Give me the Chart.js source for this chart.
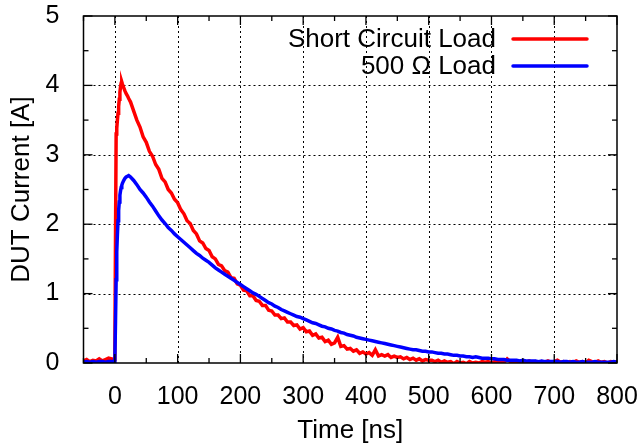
<!DOCTYPE html>
<html>
<head>
<meta charset="utf-8">
<script src="https://cdn.jsdelivr.net/npm/chart.js@4"></script>
<style>
html,body{margin:0;padding:0;background:#fff;}
#wrap{width:642px;height:446px;}
</style>
</head>
<body>
<div id="wrap"><canvas id="c" width="642" height="446"></canvas></div>
<script>
// ---- data ----
const seriesNames = ['Short Circuit Load', '500 \u03A9 Load'];
const seriesColors = ['#ff0000', '#0000ff'];

const timeNs = [
  -50,-45,-40,-35,-30,-25,-20,-15,-10,-5,-1,
  0,1,2,3,4,5,6,7,8,9,10,11,12,14,16,18,20,22,25,
  30,35,40,45,50,55,60,65,70,75,
  80,85,90,95,100,105,110,115,120,125,
  130,135,140,145,150,155,160,165,170,175,
  180,185,190,195,200,205,210,215,220,225,
  230,235,240,245,250,255,260,265,270,275,
  280,285,290,295,300,305,310,315,320,325,
  330,335,340,345,350,355,360,365,370,375,
  380,385,390,395,400,405,410,415,420,425,
  430,435,440,445,450,455,460,465,470,475,
  480,485,490,495,500,505,510,515,520,525,
  530,535,540,545,550,555,560,565,570,575,
  580,585,590,595,600,605,610,615,620,625,
  630,635,640,645,650,655,660,665,670,675,
  680,685,690,695,700,705,710,715,720,725,
  730,735,740,745,750,755,760,765,770,775,
  780,785,790,795,800
];

const shortCircuitA = [
  0.03,0.05,0.02,0.04,0.03,0.06,0.03,0.05,0.07,0.06,0.05,
  0.20,1.80,3.30,3.38,3.50,3.60,3.70,3.80,3.90,3.98,4.03,4.05,4.02,3.97,3.92,3.88,3.85,3.81,3.76,
  3.63,3.50,3.40,3.26,3.18,3.05,2.98,2.86,2.79,2.66,
  2.61,2.50,2.45,2.36,2.31,2.21,2.15,2.05,2.01,1.91,
  1.86,1.76,1.73,1.65,1.62,1.53,1.50,1.42,1.40,1.33,
  1.31,1.23,1.22,1.14,1.12,1.05,1.04,0.97,0.97,0.90,
  0.89,0.83,0.83,0.76,0.75,0.69,0.69,0.64,0.65,0.59,
  0.59,0.54,0.55,0.49,0.51,0.45,0.46,0.40,0.42,0.36,
  0.37,0.31,0.33,0.27,0.29,0.37,0.24,0.25,0.20,0.21,
  0.17,0.19,0.14,0.16,0.13,0.15,0.11,0.19,0.10,0.12,
  0.10,0.12,0.08,0.10,0.08,0.09,0.06,0.08,0.05,0.07,
  0.04,0.06,0.03,0.05,0.04,0.04,0.02,0.04,0.01,0.03,
  0.01,0.02,-0.01,0.02,0.00,0.01,-0.01,0.02,0.00,0.01,
  0.00,0.02,0.01,0.02,0.00,0.02,0.01,0.03,0.01,0.06,
  0.02,0.01,0.02,0.00,0.02,0.01,0.03,0.01,0.02,0.00,
  0.02,0.01,0.03,0.01,0.02,0.04,0.01,0.02,0.00,0.02,
  0.01,0.03,0.01,0.02,0.00,0.04,0.02,0.01,0.03,0.01,
  0.02,0.00,0.02,0.01,0.02
];

const load500A = [
  0.01,0.02,0.01,0.02,0.01,0.02,0.02,0.01,0.02,0.02,0.02,
  0.05,0.60,1.20,1.60,1.85,2.05,2.20,2.32,2.42,2.48,2.53,2.56,2.59,2.63,2.66,2.68,2.69,2.70,2.68,
  2.63,2.57,2.50,2.45,2.39,2.32,2.26,2.19,2.12,2.06,
  2.01,1.95,1.91,1.86,1.82,1.78,1.74,1.70,1.66,1.62,
  1.58,1.55,1.51,1.48,1.45,1.41,1.37,1.34,1.31,1.28,
  1.25,1.22,1.19,1.16,1.13,1.10,1.07,1.04,1.01,0.99,
  0.96,0.93,0.90,0.87,0.85,0.82,0.80,0.77,0.75,0.73,
  0.71,0.69,0.67,0.66,0.64,0.62,0.60,0.58,0.57,0.55,
  0.53,0.52,0.50,0.49,0.47,0.46,0.44,0.43,0.41,0.40,
  0.39,0.37,0.36,0.35,0.34,0.33,0.32,0.31,0.30,0.29,
  0.28,0.27,0.26,0.25,0.24,0.23,0.22,0.21,0.20,0.19,
  0.19,0.18,0.17,0.17,0.16,0.16,0.15,0.14,0.14,0.13,
  0.13,0.12,0.11,0.11,0.10,0.10,0.09,0.09,0.08,0.09,
  0.08,0.07,0.07,0.07,0.06,0.06,0.05,0.05,0.05,0.04,
  0.04,0.04,0.04,0.03,0.04,0.03,0.03,0.03,0.03,0.02,
  0.03,0.02,0.02,0.02,0.02,0.02,0.01,0.02,0.02,0.01,
  0.02,0.01,0.01,0.02,0.01,0.01,0.01,0.02,0.01,0.01,
  0.01,0.01,0.01,0.02,0.01
];

const xTickLabels = [0,100,200,300,400,500,600,700,800];
const xMinorTicks = [-50,50,150,250,350,450,550,650,750];
const yTickLabels = [0,1,2,3,4,5];
const yMinorTicks = [0.5,1.5,2.5,3.5,4.5];
const xRange = [-50, 800];
const yRange = [0, 5];

// ---- drawing ----
const FONT = 'Liberation Sans, Arial, Helvetica, sans-serif';
const FS_TICK = 25;
const FS_TEXT = 26;

function toPoints(xs, ys) { return xs.map((t, i) => ({x: t, y: ys[i]})); }

const framePlugin = {
  id: 'gnuplotFrame',
  beforeDatasetsDraw(chart) {
    const {ctx, chartArea: a, scales: {x, y}} = chart;
    ctx.save();
    ctx.strokeStyle = '#000';
    ctx.lineWidth = 1;
    ctx.setLineDash([2, 3]);
    xTickLabels.forEach(v => {
      if (v <= xRange[0] || v >= xRange[1]) return;
      const px = Math.round(x.getPixelForValue(v)) + 0.5;
      ctx.beginPath(); ctx.moveTo(px, a.top); ctx.lineTo(px, a.bottom); ctx.stroke();
    });
    yTickLabels.forEach(v => {
      if (v <= yRange[0] || v >= yRange[1]) return;
      const py = Math.round(y.getPixelForValue(v)) + 0.5;
      ctx.beginPath(); ctx.moveTo(a.left, py); ctx.lineTo(a.right, py); ctx.stroke();
    });
    ctx.restore();
  },
  afterDatasetsDraw(chart) {
    const {ctx, chartArea: a, scales: {x, y}} = chart;
    ctx.save();
    ctx.strokeStyle = '#000';
    ctx.lineWidth = 1.3;
    ctx.setLineDash([]);
    const tick = (x1, y1, x2, y2) => { ctx.beginPath(); ctx.moveTo(x1, y1); ctx.lineTo(x2, y2); ctx.stroke(); };
    const majorLen = 9, minorLen = 5;
    xTickLabels.forEach(v => {
      const px = x.getPixelForValue(v);
      tick(px, a.bottom, px, a.bottom - majorLen);
      tick(px, a.top, px, a.top + majorLen);
    });
    xMinorTicks.forEach(v => {
      const px = x.getPixelForValue(v);
      tick(px, a.bottom, px, a.bottom - minorLen);
      tick(px, a.top, px, a.top + minorLen);
    });
    yTickLabels.forEach(v => {
      const py = y.getPixelForValue(v);
      tick(a.left, py, a.left + majorLen, py);
      tick(a.right, py, a.right - majorLen, py);
    });
    yMinorTicks.forEach(v => {
      const py = y.getPixelForValue(v);
      tick(a.left, py, a.left + minorLen, py);
      tick(a.right, py, a.right - minorLen, py);
    });
    ctx.lineWidth = 1.5;
    ctx.strokeRect(a.left, a.top, a.right - a.left, a.bottom - a.top);

    // legend (gnuplot style: right-aligned text, then line sample)
    ctx.font = FS_TEXT + 'px ' + FONT;
    ctx.textAlign = 'right';
    ctx.textBaseline = 'middle';
    const textRight = a.right - 121, lineL = a.right - 104, lineR = a.right - 30;
    const rows = [a.top + 23, a.top + 50];
    chart.data.datasets.forEach((ds, i) => {
      ctx.fillStyle = '#000';
      ctx.fillText(ds.label, textRight, rows[i] + 1);
      ctx.strokeStyle = ds.borderColor;
      ctx.lineWidth = 3.5;
      ctx.lineCap = 'round';
      ctx.beginPath(); ctx.moveTo(lineL, rows[i]); ctx.lineTo(lineR, rows[i]); ctx.stroke();
    });
    ctx.restore();
  }
};

new Chart(document.getElementById('c'), {
  type: 'line',
  data: {
    datasets: [
      { label: seriesNames[0], data: toPoints(timeNs, shortCircuitA), borderColor: seriesColors[0],
        borderWidth: 3.5, pointRadius: 0, tension: 0, fill: false, order: 2 },
      { label: seriesNames[1], data: toPoints(timeNs, load500A), borderColor: seriesColors[1],
        borderWidth: 3.5, pointRadius: 0, tension: 0, fill: false, order: 1 }
    ]
  },
  options: {
    responsive: false,
    animation: false,
    layout: { padding: { left: 0, right: 25, top: 16, bottom: 0 } },
    plugins: { legend: { display: false }, tooltip: { enabled: false } },
    scales: {
      x: {
        type: 'linear', min: xRange[0], max: xRange[1],
        grid: { display: false }, border: { display: false },
        afterBuildTicks: s => { s.ticks = xTickLabels.map(v => ({value: v})); },
        afterFit: s => { s.height = 83; s.paddingLeft = 0; s.paddingRight = 0; },
        ticks: { autoSkip: false, maxRotation: 0, padding: 11, color: '#000', font: { family: FONT, size: FS_TICK } },
        title: { display: true, text: 'Time [ns]', color: '#000', font: { family: FONT, size: FS_TEXT }, padding: { top: 0, bottom: 0 } }
      },
      y: {
        type: 'linear', min: yRange[0], max: yRange[1],
        grid: { display: false }, border: { display: false },
        afterBuildTicks: s => { s.ticks = yTickLabels.map(v => ({value: v})); },
        afterFit: s => { s.width = 83.5; s.paddingTop = 0; s.paddingBottom = 0; },
        ticks: { padding: 16, color: '#000', font: { family: FONT, size: FS_TICK } },
        title: { display: true, text: 'DUT Current [A]', color: '#000', font: { family: FONT, size: FS_TEXT }, padding: { top: 6, bottom: 0 } }
      }
    }
  },
  plugins: [framePlugin]
});
</script>
</body>
</html>
